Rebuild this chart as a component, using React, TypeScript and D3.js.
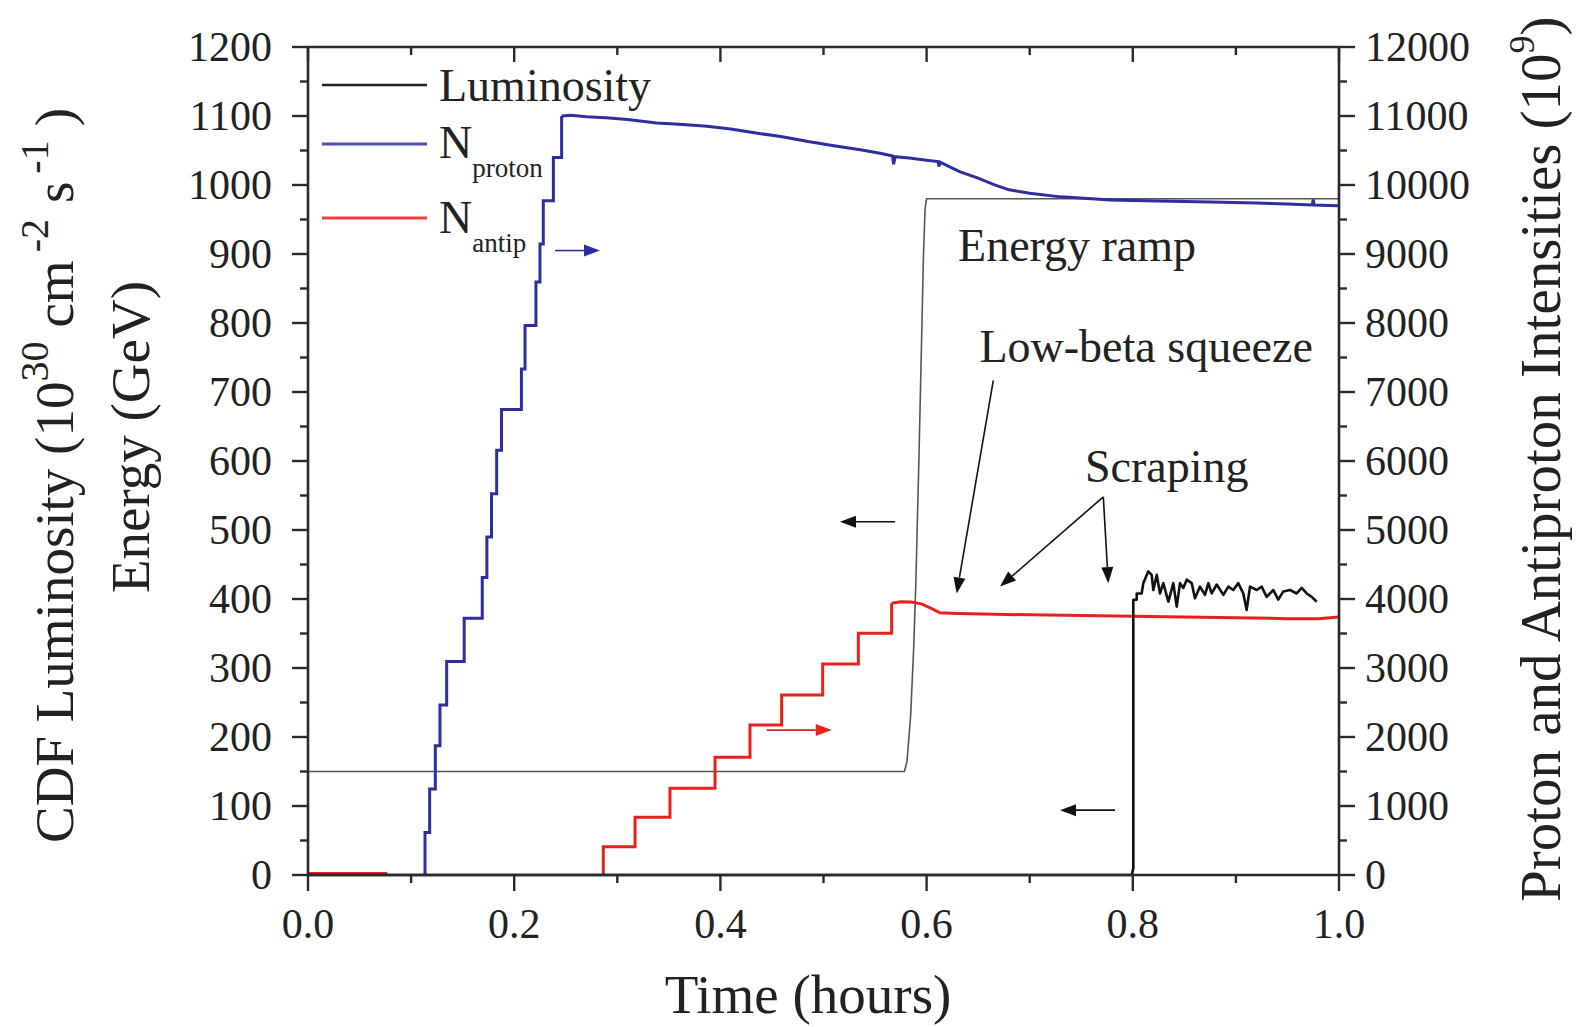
import React from 'react';
import * as d3 from 'd3';

// ---------- data ----------
// Energy ramp (GeV, left axis)
const energyT = [0, 0.5785, 0.581, 0.5845, 0.5875, 0.5895, 0.5925, 0.5955, 0.597, 0.5985, 0.6, 1.0];
const energyV = [150, 150, 165, 230, 330, 420, 600, 800, 900, 965, 980, 980];

// CDF luminosity (left axis)
const lumT = [0, 0.799, 0.8005, 0.8005, 0.8038, 0.8038, 0.8086, 0.8102, 0.815, 0.8183, 0.8199, 0.8232, 0.8264, 0.8296, 0.8345, 0.8393, 0.8426, 0.8458, 0.849, 0.8523, 0.8571, 0.8603, 0.8652, 0.87, 0.8733, 0.8765, 0.8814, 0.8878, 0.8927, 0.8975, 0.9023, 0.9072, 0.9104, 0.9137, 0.9202, 0.925, 0.9298, 0.9363, 0.9411, 0.946, 0.9525, 0.959, 0.9638, 0.9687, 0.9735, 0.9784];
const lumV = [0, 0, 10, 399, 399, 408, 408, 423, 440, 435, 413, 435, 408, 423, 396, 423, 389, 423, 416, 428, 423, 401, 418, 406, 423, 408, 421, 406, 418, 413, 423, 408, 384, 418, 413, 418, 403, 413, 399, 411, 413, 408, 416, 408, 403, 396];

// Proton intensity (right axis) - injection staircase (value from t onward)
const protonStepT = [0.1135, 0.1135, 0.118, 0.1235, 0.128, 0.1345, 0.1515, 0.169, 0.1735, 0.178, 0.183, 0.1877, 0.207, 0.2105, 0.2211, 0.225, 0.2282, 0.238, 0.246];
const protonStepV = [0, 617, 1246, 1875, 2464, 3093, 3720, 4310, 4900, 5527, 6156, 6745, 7333, 7962, 8594, 9145, 9770, 10400, 11000];
// Proton intensity after injection
const protonT = [0.246, 0.255, 0.27, 0.289, 0.31, 0.338, 0.36, 0.387, 0.41, 0.436, 0.46, 0.485, 0.51, 0.534, 0.555, 0.567, 0.568, 0.5695, 0.583, 0.6, 0.611, 0.612, 0.613, 0.632, 0.65, 0.666, 0.68, 0.7, 0.73, 0.76, 0.778, 0.8, 0.85, 0.876, 0.92, 0.95, 0.974, 0.975, 0.976, 0.999];
const protonV = [11000, 11010, 10990, 10975, 10950, 10900, 10880, 10850, 10810, 10750, 10700, 10630, 10570, 10515, 10460, 10420, 10300, 10410, 10390, 10360, 10340, 10270, 10330, 10194, 10100, 10003, 9930, 9880, 9828, 9800, 9784, 9775, 9760, 9755, 9740, 9725, 9711, 9790, 9711, 9700];

// Antiproton intensity (right axis)
const antipInitT = [0, 0.077];
const antipInitV = [20, 20];
const antipStepT = [0.2864, 0.2864, 0.3172, 0.3511, 0.3948, 0.4287, 0.4594, 0.4992, 0.5338, 0.5661];
const antipStepV = [0, 410, 836, 1256, 1705, 2174, 2609, 3058, 3502, 3937];
const antipT = [0.5661, 0.575, 0.585, 0.595, 0.605, 0.613, 0.63, 0.7, 0.8, 0.9, 0.95, 0.98, 1.0];
const antipV = [3937, 3960, 3955, 3930, 3860, 3800, 3790, 3770, 3750, 3730, 3715, 3715, 3740];

// Ticks
const xMajor = [0, 0.2, 0.4, 0.6, 0.8, 1.0];
const xMinor = [0.1, 0.3, 0.5, 0.7, 0.9];
const leftMajor = d3.range(0, 1201, 100);
const leftMinor = d3.range(50, 1200, 100);
const rightMajor = d3.range(0, 12001, 1000);
const rightMinor = d3.range(500, 12000, 1000);

// Annotations (time, GeV on left axis)
const arrowsBlack = [
  { t0: 0.6647, e0: 717, t1: 0.6292, e1: 408 },
  { t0: 0.7714, e0: 548, t1: 0.6712, e1: 418 },
  { t0: 0.7714, e0: 548, t1: 0.7762, e1: 423 },
  { t0: 0.5694, e0: 512, t1: 0.516, e1: 512 },
  { t0: 0.7827, e0: 94, t1: 0.7294, e1: 94 },
];
const arrowBlue = { t0: 0.2396, e0: 905, t1: 0.2832, e1: 905 };
const arrowRed = { t0: 0.4449, e0: 210, t1: 0.508, e1: 210 };
const labels = [
  { text: 'Energy ramp', t: 0.6305, e: 890 },
  { text: 'Low-beta squeeze', t: 0.6513, e: 744 },
  { text: 'Scraping', t: 0.7536, e: 570 },
];

const W = 1583;
const H = 1027;
const X0 = 308, X1 = 1339, YT = 47, YB = 875;
const FONT = '"Liberation Serif", "Times New Roman", Times, serif';

export default function App() {
  const x = d3.scaleLinear().domain([0, 1]).range([X0, X1]);
  const yL = d3.scaleLinear().domain([0, 1200]).range([YB, YT]);
  const yR = d3.scaleLinear().domain([0, 12000]).range([YB, YT]);

  const zip = (a: number[], b: number[]) => a.map((v, i) => [v, b[i]] as [number, number]);

  const lineL = d3.line<[number, number]>().x(d => x(d[0])).y(d => yL(d[1]));
  const lineR = d3.line<[number, number]>().x(d => x(d[0])).y(d => yR(d[1]));
  const stepR = d3.line<[number, number]>().x(d => x(d[0])).y(d => yR(d[1])).curve(d3.curveStepAfter);

  const axisColor = '#2a2a2a';
  const textColor = '#222';
  const blue = '#2e2e9e';
  const red = '#e8201e';

  const arrow = (a: { t0: number; e0: number; t1: number; e1: number }, color: string, key: string) => {
    const xa = x(a.t0), ya = yL(a.e0), xb = x(a.t1), yb = yL(a.e1);
    const ang = Math.atan2(yb - ya, xb - xa);
    const L = 16, Wd = 6;
    const bx = xb - L * Math.cos(ang), by = yb - L * Math.sin(ang);
    const p1 = [bx + Wd * Math.sin(ang), by - Wd * Math.cos(ang)];
    const p2 = [bx - Wd * Math.sin(ang), by + Wd * Math.cos(ang)];
    return (
      <g key={key}>
        <line x1={xa} y1={ya} x2={bx} y2={by} stroke={color} strokeWidth={1.6} />
        <polygon points={`${xb},${yb} ${p1[0]},${p1[1]} ${p2[0]},${p2[1]}`} fill={color} />
      </g>
    );
  };

  return (
    <svg width={W} height={H} style={{ position: 'absolute', left: 0, top: 0, background: '#fff' }} fontFamily={FONT}>
      <rect x={0} y={0} width={W} height={H} fill="#fff" />

      {/* data lines */}
      <path d={lineL(zip(energyT, energyV)) || ''} fill="none" stroke="#555" strokeWidth={1.6} />
      <path d={lineR(zip(antipInitT, antipInitV)) || ''} fill="none" stroke={red} strokeWidth={3} />
      <path d={stepR(zip(antipStepT, antipStepV)) || ''} fill="none" stroke={red} strokeWidth={3} />
      <path d={lineR(zip(antipT, antipV)) || ''} fill="none" stroke={red} strokeWidth={3} />
      <path d={stepR(zip(protonStepT, protonStepV)) || ''} fill="none" stroke={blue} strokeWidth={3} />
      <path d={lineR(zip(protonT, protonV)) || ''} fill="none" stroke={blue} strokeWidth={3} />
      <path d={lineL(zip(lumT, lumV)) || ''} fill="none" stroke="#111" strokeWidth={2.6} strokeLinejoin="round" />

      {/* frame */}
      <line x1={X0} y1={YT} x2={X1} y2={YT} stroke={axisColor} strokeWidth={2.6} />
      <line x1={X0} y1={YB} x2={X1} y2={YB} stroke={axisColor} strokeWidth={2.6} />
      <line x1={X0} y1={YT} x2={X0} y2={YB} stroke={axisColor} strokeWidth={2.6} />
      <line x1={X1} y1={YT} x2={X1} y2={YB} stroke={axisColor} strokeWidth={2.6} />

      {/* bottom ticks (outward) and top ticks (inward) */}
      {xMajor.map(v => (
        <g key={'xm' + v}>
          <line x1={x(v)} y1={YB} x2={x(v)} y2={YB + 16} stroke={axisColor} strokeWidth={2.4} />
          <line x1={x(v)} y1={YT} x2={x(v)} y2={YT + 15} stroke={axisColor} strokeWidth={2.4} />
          <text x={x(v)} y={938} textAnchor="middle" fontSize={42} fill={textColor}>{v.toFixed(1)}</text>
        </g>
      ))}
      {xMinor.map(v => (
        <g key={'xn' + v}>
          <line x1={x(v)} y1={YB} x2={x(v)} y2={YB + 8} stroke={axisColor} strokeWidth={2.4} />
          <line x1={x(v)} y1={YT} x2={x(v)} y2={YT + 8} stroke={axisColor} strokeWidth={2.4} />
        </g>
      ))}

      {/* left ticks */}
      {leftMajor.map(v => (
        <g key={'lm' + v}>
          <line x1={X0 - 16} y1={yL(v)} x2={X0} y2={yL(v)} stroke={axisColor} strokeWidth={2.4} />
          <text x={272} y={yL(v)} dy="0.34em" textAnchor="end" fontSize={42} fill={textColor}>{v}</text>
        </g>
      ))}
      {leftMinor.map(v => (
        <line key={'ln' + v} x1={X0 - 8} y1={yL(v)} x2={X0} y2={yL(v)} stroke={axisColor} strokeWidth={2.4} />
      ))}

      {/* right ticks */}
      {rightMajor.map(v => (
        <g key={'rm' + v}>
          <line x1={X1} y1={yR(v)} x2={X1 + 16} y2={yR(v)} stroke={axisColor} strokeWidth={2.4} />
          <text x={1365} y={yR(v)} dy="0.34em" textAnchor="start" fontSize={42} fill={textColor}>{v}</text>
        </g>
      ))}
      {rightMinor.map(v => (
        <line key={'rn' + v} x1={X1} y1={yR(v)} x2={X1 + 8} y2={yR(v)} stroke={axisColor} strokeWidth={2.4} />
      ))}

      {/* axis titles */}
      <text x={808} y={1013} textAnchor="middle" fontSize={55} fill={textColor}>Time (hours)</text>
      <text transform="translate(73,843) rotate(-90)" fontSize={55} fill={textColor}>
        CDF Luminosity (10
        <tspan fontSize={40} dy={-25}>30</tspan>
        <tspan dy={25} dx={14}>cm</tspan>
        <tspan fontSize={40} dy={-25} dx={8}>-2</tspan>
        <tspan dy={25} dx={16}>s</tspan>
        <tspan fontSize={40} dy={-25} dx={8}>-1</tspan>
        <tspan dy={25} dx={14}>)</tspan>
      </text>
      <text transform="translate(149,437) rotate(-90)" textAnchor="middle" fontSize={55} fill={textColor}>Energy (GeV)</text>
      <text transform="translate(1560,902) rotate(-90)" fontSize={57} fill={textColor}>
        Proton and Antiproton Intensities (10
        <tspan fontSize={36} dy={-26}>9</tspan>
        <tspan dy={26}>)</tspan>
      </text>

      {/* legend */}
      <line x1={322} y1={85} x2={427} y2={85} stroke="#222" strokeWidth={2.6} />
      <text x={439} y={101} fontSize={46} fill={textColor}>Luminosity</text>
      <line x1={322} y1={144} x2={427} y2={144} stroke="#5050b0" strokeWidth={3} />
      <text x={439} y={158} fontSize={46} fill={textColor}>N<tspan fontSize={27} dy={19}>proton</tspan></text>
      <line x1={322} y1={218} x2={427} y2={218} stroke="#ee4040" strokeWidth={3} />
      <text x={439} y={233} fontSize={46} fill={textColor}>N<tspan fontSize={27} dy={19}>antip</tspan></text>

      {/* annotations */}
      {labels.map(l => (
        <text key={l.text} x={x(l.t)} y={yL(l.e)} fontSize={46} fill={textColor}>{l.text}</text>
      ))}
      {arrowsBlack.map((a, i) => arrow(a, '#111', 'ab' + i))}
      {arrow(arrowBlue, blue, 'abl')}
      {arrow(arrowRed, red, 'ar')}
    </svg>
  );
}
